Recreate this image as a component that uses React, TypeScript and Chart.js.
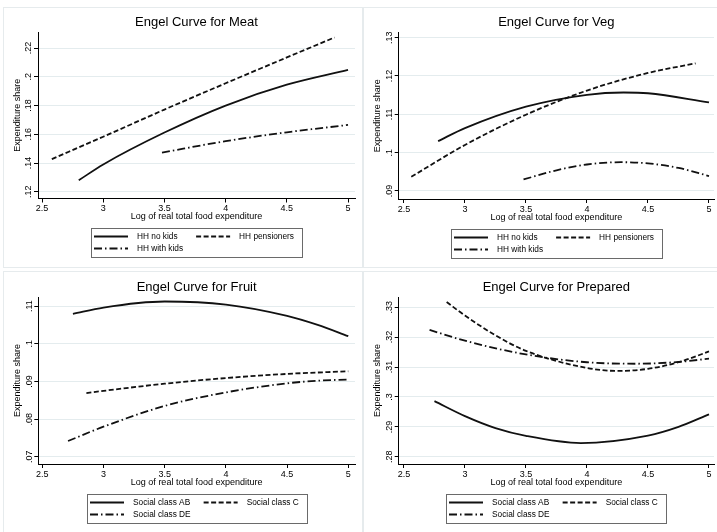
import React, { useEffect, useRef } from 'react';
import { Chart, registerables } from 'chart.js';

Chart.register(...registerables);

const FONT = '"Liberation Sans", Arial, Helvetica, sans-serif';

// ---------- shared axis data ----------
const xTicks = [2.5, 3, 3.5, 4, 4.5, 5];
const xAxisTitle = 'Log of real total food expenditure';
const yAxisTitle = 'Expenditure share';

const householdLabels = ['HH no kids', 'HH pensioners', 'HH with kids'];
const classLabels = ['Social class AB', 'Social class C', 'Social class DE'];

// ---------- Meat ----------
const meatYTicks = [0.12, 0.14, 0.16, 0.18, 0.2, 0.22];
const meatNoKidsX = [2.8, 3, 3.5, 4, 4.5, 5];
const meatNoKidsY = [0.128, 0.139, 0.1612, 0.18, 0.1945, 0.2048];
const meatPensionersX = [2.58, 3, 3.5, 4, 4.5, 4.89];
const meatPensionersY = [0.1427, 0.1583, 0.1772, 0.1955, 0.2135, 0.2274];
const meatWithKidsX = [3.48, 4, 4.5, 5];
const meatWithKidsY = [0.1473, 0.1552, 0.1614, 0.1665];

// ---------- Veg ----------
const vegYTicks = [0.09, 0.1, 0.11, 0.12, 0.13];
const vegNoKidsX = [2.78, 3, 3.5, 4, 4.3, 4.5, 5];
const vegNoKidsY = [0.103, 0.1064, 0.112, 0.1151, 0.1157, 0.1155, 0.1131];
const vegPensionersX = [2.56, 3, 3.5, 4, 4.5, 4.89];
const vegPensionersY = [0.0937, 0.102, 0.1099, 0.1162, 0.1208, 0.1233];
const vegWithKidsX = [3.48, 3.75, 4, 4.28, 4.5, 4.75, 5];
const vegWithKidsY = [0.093, 0.0954, 0.0969, 0.0975, 0.0972, 0.096, 0.0939];

// ---------- Fruit ----------
const fruitYTicks = [0.07, 0.08, 0.09, 0.1, 0.11];
const fruitABX = [2.75, 3, 3.5, 4, 4.5, 4.75, 5];
const fruitABY = [0.1079, 0.1096, 0.1112, 0.1104, 0.1074, 0.105, 0.102];
const fruitCX = [2.86, 3, 3.5, 4, 4.5, 5];
const fruitCY = [0.0869, 0.0875, 0.0894, 0.0909, 0.092, 0.0927];
const fruitDEX = [2.71, 3, 3.5, 4, 4.5, 4.75, 5];
const fruitDEY = [0.0742, 0.078, 0.0835, 0.0871, 0.0895, 0.0902, 0.0905];

// ---------- Prepared ----------
const preparedYTicks = [0.28, 0.29, 0.3, 0.31, 0.32, 0.33];
const prepABX = [2.75, 3, 3.25, 3.5, 3.95, 4.5, 4.75, 5];
const prepABY = [0.2986, 0.2936, 0.2896, 0.287, 0.2846, 0.2871, 0.29, 0.2942];
const prepCX = [2.85, 3, 3.25, 3.5, 4, 4.25, 4.5, 4.75, 5];
const prepCY = [0.3317, 0.3272, 0.3206, 0.3154, 0.3097, 0.3087, 0.3094, 0.3116, 0.3152];
const prepDEX = [2.71, 3, 3.5, 4, 4.4, 4.75, 5];
const prepDEY = [0.3224, 0.3188, 0.3142, 0.3116, 0.3111, 0.3117, 0.3128];

// ---------- styles ----------
const SOLID: number[] = [];
const DASHED = [5, 2.5];
const DASHDOT = [8, 3, 1.5, 3];
const LINE_COLOR = '#111111';
const GRID_COLOR = '#e4ecee';
const PANEL_BORDER = '#e6ebed';

type Series = { label: string; xs: number[]; ys: number[]; dash: number[] };
type Spec = {
  title: string;
  series: Series[];
  yTicks: number[];
  xMin: number; xMax: number; yMin: number; yMax: number;
  yAxisWidth: number; padRight: number; padBottom: number;
  titlePadBottom: number; yTitlePad: number;
  left: number; top: number; w: number;
};

const fmtY = (v: number) => String(v).replace(/^0\./, '.');

const stataLegend = {
  id: 'stataLegend',
  afterDraw(chart: any, _args: any, opts: any) {
    const { ctx, chartArea } = chart;
    const ds = chart.data.datasets;
    ctx.save();
    ctx.font = `${opts.fontSize}px ${FONT}`;
    const w = ds.map((d: any) => ctx.measureText(d.label).width);
    const col1 = Math.max(w[0], w[2] || 0);
    const col2 = w[1];
    const padL = 3, sym = 34, gap = 9, colGap = 13, padR = 8;
    const total = padL + sym + gap + col1 + colGap + sym + gap + col2 + padR;
    const cx = (chartArea.left + chartArea.right) / 2;
    const left = Math.round(cx - total / 2);
    const top = Math.round(chartArea.bottom + opts.offset);
    const height = 29;
    ctx.strokeStyle = '#6a6a6a';
    ctx.lineWidth = 1;
    ctx.setLineDash([]);
    ctx.strokeRect(left + 0.5, top + 0.5, Math.round(total), height);
    const cols = [left + padL, left + padL + sym + gap + col1 + colGap];
    const rows = [top + 8.5, top + 20.5];
    const pos = [[0, 0], [1, 0], [0, 1]];
    ds.forEach((d: any, i: number) => {
      const [c, r] = pos[i];
      const x0 = cols[c];
      const y = rows[r];
      ctx.setLineDash(d.borderDash || []);
      ctx.strokeStyle = d.borderColor;
      ctx.lineWidth = d.borderWidth;
      ctx.beginPath();
      ctx.moveTo(x0, y);
      ctx.lineTo(x0 + sym, y);
      ctx.stroke();
      ctx.setLineDash([]);
      ctx.fillStyle = '#000';
      ctx.textBaseline = 'middle';
      ctx.textAlign = 'left';
      ctx.fillText(d.label, x0 + sym + gap, y);
    });
    ctx.restore();
  },
};

function buildConfig(spec: Spec): any {
  return {
    type: 'line',
    data: {
      datasets: spec.series.map((s) => ({
        label: s.label,
        data: s.xs.map((x, i) => ({ x, y: s.ys[i] })),
        borderColor: LINE_COLOR,
        borderWidth: 1.8,
        borderDash: s.dash,
        pointRadius: 0,
        fill: false,
        cubicInterpolationMode: 'monotone',
      })),
    },
    plugins: [stataLegend],
    options: {
      animation: false,
      responsive: false,
      devicePixelRatio: 1,
      events: [],
      layout: { padding: { left: 0, top: 0, right: spec.padRight, bottom: spec.padBottom } },
      plugins: {
        legend: { display: false },
        tooltip: { enabled: false },
        title: {
          display: true,
          text: spec.title,
          fullSize: false,
          color: '#000',
          font: { family: FONT, size: 13, weight: 'normal' },
          padding: { top: 15, bottom: spec.titlePadBottom },
        },
        stataLegend: { offset: 29.5, fontSize: 8.3 },
      },
      scales: {
        x: {
          type: 'linear',
          min: spec.xMin,
          max: spec.xMax,
          afterBuildTicks: (s: any) => { s.ticks = xTicks.map((v) => ({ value: v })); },
          afterFit: (s: any) => { s.height = 28; },
          ticks: {
            autoSkip: false,
            maxRotation: 0,
            padding: 1,
            color: '#000',
            font: { family: FONT, size: 9 },
            callback: (v: number) => String(v),
          },
          grid: { drawOnChartArea: false, drawTicks: true, tickLength: 4, tickColor: '#000' },
          border: { display: true, color: '#000', width: 1 },
          title: {
            display: true,
            text: xAxisTitle,
            color: '#000',
            font: { family: FONT, size: 9 },
            padding: { top: 0, bottom: 4.1 },
          },
        },
        y: {
          type: 'linear',
          min: spec.yMin,
          max: spec.yMax,
          afterBuildTicks: (s: any) => { s.ticks = spec.yTicks.map((v) => ({ value: v })); },
          afterFit: (s: any) => { s.width = spec.yAxisWidth; },
          ticks: {
            minRotation: 90,
            maxRotation: 90,
            crossAlign: 'center',
            padding: -1.2,
            color: '#000',
            font: { family: FONT, size: 9 },
            callback: (v: number) => fmtY(v),
          },
          grid: { color: GRID_COLOR, lineWidth: 1, drawTicks: true, tickLength: 4, tickColor: '#000' },
          border: { display: true, color: '#000', width: 1 },
          title: {
            display: true,
            text: yAxisTitle,
            color: '#000',
            font: { family: FONT, size: 9 },
            padding: { top: spec.yTitlePad, bottom: 0 },
          },
        },
      },
    },
  };
}

const mk = (labels: string[], xs: number[][], ys: number[][]): Series[] =>
  labels.map((label, i) => ({ label, xs: xs[i], ys: ys[i], dash: [SOLID, DASHED, DASHDOT][i] }));

const specs: Spec[] = [
  {
    title: 'Engel Curve for Meat',
    series: mk(householdLabels, [meatNoKidsX, meatPensionersX, meatWithKidsX], [meatNoKidsY, meatPensionersY, meatWithKidsY]),
    yTicks: meatYTicks,
    xMin: 2.467, xMax: 5.057, yMin: 0.1153, yMax: 0.2312,
    yAxisWidth: 38, padRight: 5, padBottom: 39.5, titlePadBottom: 1.4, yTitlePad: 12.6,
    left: 0, top: 0, w: 360,
  },
  {
    title: 'Engel Curve for Veg',
    series: mk(householdLabels, [vegNoKidsX, vegPensionersX, vegWithKidsX], [vegNoKidsY, vegPensionersY, vegWithKidsY]),
    yTicks: vegYTicks,
    xMin: 2.457, xMax: 5.041, yMin: 0.0879, yMax: 0.1313,
    yAxisWidth: 38.7, padRight: 3, padBottom: 39, titlePadBottom: 2.1, yTitlePad: 12.3,
    left: 360, top: 0, w: 357,
  },
  {
    title: 'Engel Curve for Fruit',
    series: mk(classLabels, [fruitABX, fruitCX, fruitDEX], [fruitABY, fruitCY, fruitDEY]),
    yTicks: fruitYTicks,
    xMin: 2.467, xMax: 5.055, yMin: 0.0681, yMax: 0.1124,
    yAxisWidth: 38.3, padRight: 5, padBottom: 39, titlePadBottom: 1.4, yTitlePad: 12.6,
    left: 0, top: 265, w: 360,
  },
  {
    title: 'Engel Curve for Prepared',
    series: mk(classLabels, [prepABX, prepCX, prepDEX], [prepABY, prepCY, prepDEY]),
    yTicks: preparedYTicks,
    xMin: 2.457, xMax: 5.041, yMin: 0.2776, yMax: 0.3334,
    yAxisWidth: 38.7, padRight: 3, padBottom: 39, titlePadBottom: 1.4, yTitlePad: 12.3,
    left: 360, top: 265, w: 357,
  },
];

function ChartPanel({ spec }: { spec: Spec }) {
  const ref = useRef<HTMLCanvasElement>(null);
  useEffect(() => {
    const chart = new Chart(ref.current as HTMLCanvasElement, buildConfig(spec));
    return () => chart.destroy();
  }, [spec]);
  return (
    <canvas
      ref={ref}
      width={spec.w}
      height={266}
      style={{ position: 'absolute', left: spec.left, top: spec.top, width: spec.w, height: 266 }}
    />
  );
}

const frames = [
  { left: 3, top: 7, width: 360, height: 261 },
  { left: 363, top: 7, width: 356, height: 261 },
  { left: 3, top: 271, width: 360, height: 263 },
  { left: 363, top: 271, width: 356, height: 263 },
];

export default function App() {
  return (
    <div
      style={{
        position: 'absolute',
        left: 0,
        top: 0,
        width: 717,
        height: 532,
        overflow: 'hidden',
        background: '#ffffff',
        fontFamily: FONT,
      }}
    >
      {frames.map((f, i) => (
        <div
          key={'f' + i}
          style={{
            position: 'absolute',
            left: f.left,
            top: f.top,
            width: f.width,
            height: f.height,
            border: `1px solid ${PANEL_BORDER}`,
            boxSizing: 'border-box',
          }}
        />
      ))}
      {specs.map((s, i) => (
        <ChartPanel key={i} spec={s} />
      ))}
    </div>
  );
}
